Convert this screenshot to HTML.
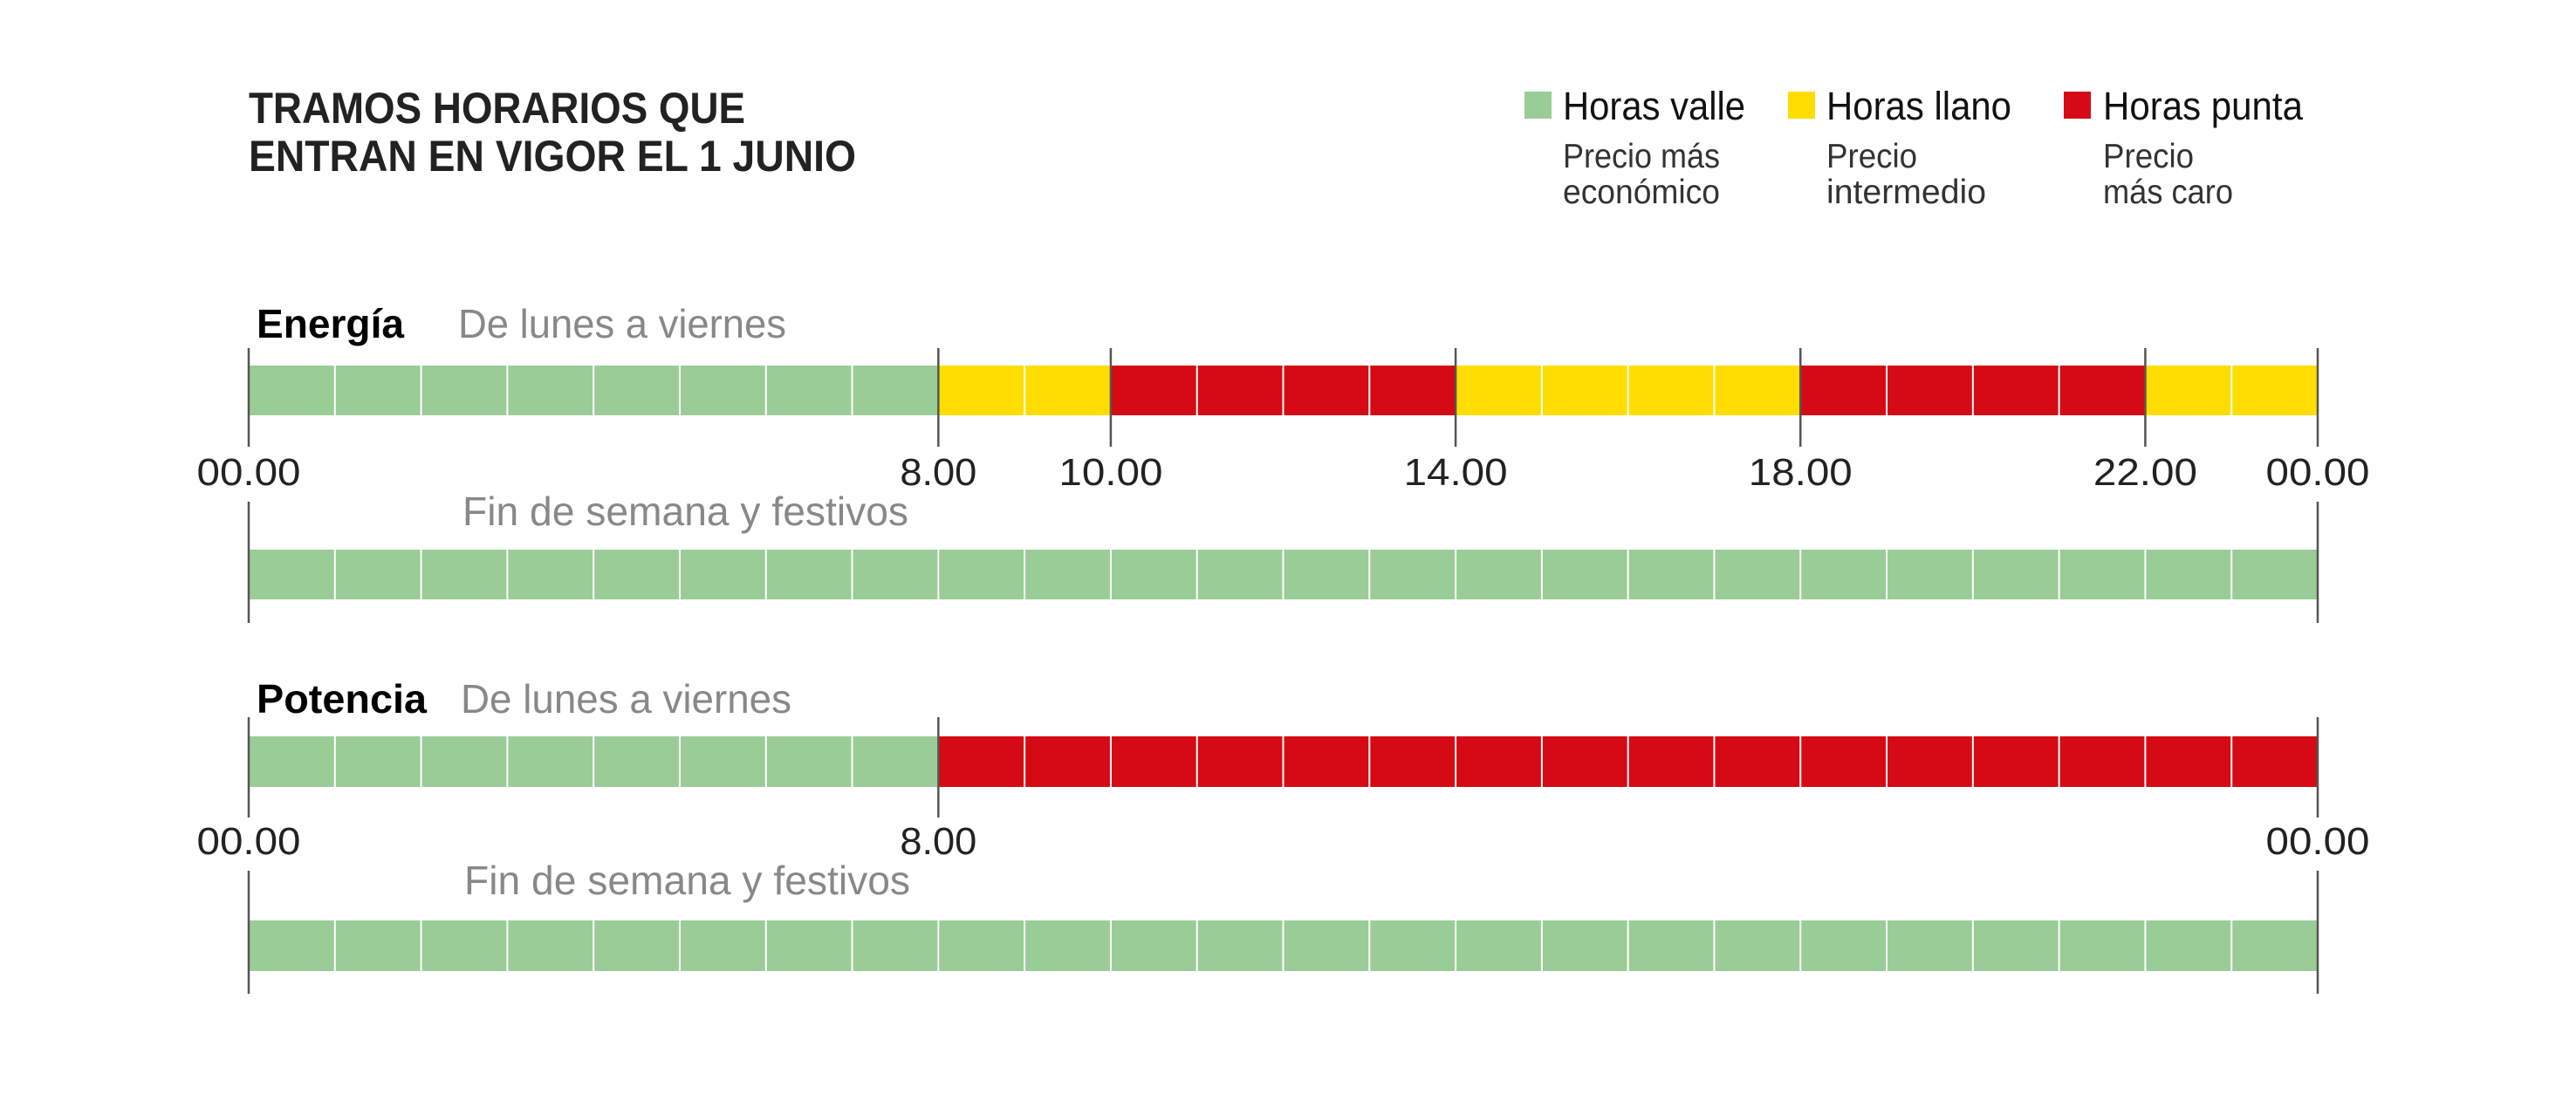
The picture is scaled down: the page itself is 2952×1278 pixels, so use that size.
<!DOCTYPE html>
<html><head><meta charset="utf-8"><style>html,body{margin:0;padding:0;background:#fff}svg{display:block}text{font-family:"Liberation Sans",sans-serif}</style></head>
<body>
<svg width="2952" height="1278" viewBox="0 0 2952 1278" xmlns="http://www.w3.org/2000/svg">
<rect width="2952" height="1278" fill="#fff"/>
<text x="285" y="141" font-size="50" font-weight="bold" fill="#222" textLength="569" lengthAdjust="spacingAndGlyphs">TRAMOS HORARIOS QUE</text>
<text x="285" y="196" font-size="50" font-weight="bold" fill="#222" textLength="696" lengthAdjust="spacingAndGlyphs">ENTRAN EN VIGOR EL 1 JUNIO</text>

<rect x="1747" y="105" width="31" height="31" fill="#9ACC98"/>
<text x="1791" y="137" font-size="45" fill="#111" textLength="209" lengthAdjust="spacingAndGlyphs">Horas valle</text>
<rect x="2049" y="105" width="31" height="31" fill="#FFDD00"/>
<text x="2093" y="137" font-size="45" fill="#111" textLength="212" lengthAdjust="spacingAndGlyphs">Horas llano</text>
<rect x="2365" y="105" width="31" height="31" fill="#D50A14"/>
<text x="2410" y="137" font-size="45" fill="#111" textLength="229" lengthAdjust="spacingAndGlyphs">Horas punta</text>
<g font-size="39" fill="#333">
<text x="1791" y="192" textLength="180" lengthAdjust="spacingAndGlyphs">Precio más</text>
<text x="1791" y="233" textLength="180" lengthAdjust="spacingAndGlyphs">económico</text>
<text x="2093" y="192" textLength="104" lengthAdjust="spacingAndGlyphs">Precio</text>
<text x="2093" y="233" textLength="183" lengthAdjust="spacingAndGlyphs">intermedio</text>
<text x="2410" y="192" textLength="104" lengthAdjust="spacingAndGlyphs">Precio</text>
<text x="2410" y="233" textLength="149" lengthAdjust="spacingAndGlyphs">más caro</text>
</g>

<text x="294" y="387" font-size="46" font-weight="bold" fill="#000" textLength="169" lengthAdjust="spacingAndGlyphs">Energía</text>
<text x="525" y="387" font-size="46" fill="#888" textLength="376" lengthAdjust="spacingAndGlyphs">De lunes a viernes</text>
<text x="530" y="602" font-size="46" fill="#888" textLength="511" lengthAdjust="spacingAndGlyphs">Fin de semana y festivos</text>
<text x="294" y="817" font-size="46" font-weight="bold" fill="#000" textLength="195" lengthAdjust="spacingAndGlyphs">Potencia</text>
<text x="528" y="817" font-size="46" fill="#888" textLength="379" lengthAdjust="spacingAndGlyphs">De lunes a viernes</text>
<text x="532" y="1025" font-size="46" fill="#888" textLength="511" lengthAdjust="spacingAndGlyphs">Fin de semana y festivos</text>

<g id="bars"></g>
<g id="labels" font-size="44" fill="#222" text-anchor="middle"></g>
</svg>
<script>
(function(){
var ns="http://www.w3.org/2000/svg";
var L=285,H=(2656-285)/24;
var G="#9ACC98",Y="#FFDD00",R="#D50A14";
var bars=document.getElementById('bars'),labs=document.getElementById('labels');
function el(t,a,p,txt){var e=document.createElementNS(ns,t);for(var k in a)e.setAttribute(k,a[k]);if(txt)e.textContent=txt;p.appendChild(e);return e;}
function col(h,type){
 if(type==='g')return G;
 if(type==='p')return h<8?G:R;
 if(h<8)return G; if(h<10)return Y; if(h<14)return R; if(h<18)return Y; if(h<22)return R; return Y;
}
function row(y0,y1,type,ticks,t0,t1){
 for(var h=0;h<24;h++){el('rect',{x:L+h*H,y:y0,width:H+0.5,height:y1-y0,fill:col(h,type)},bars);}
 for(var h=1;h<24;h++){el('line',{x1:L+h*H,x2:L+h*H,y1:y0,y2:y1,stroke:'#fff','stroke-width':2},bars);}
 ticks.forEach(function(h){el('line',{x1:L+h*H,x2:L+h*H,y1:t0,y2:t1,stroke:'#555','stroke-width':2.5},bars);});
}
function label(h,y,txt){var w=txt.length===4?88:119;el('text',{x:L+h*H,y:y,textLength:w,lengthAdjust:'spacingAndGlyphs'},labs,txt);}
row(419,476,'e',[0,8,10,14,18,22,24],399,512);
row(630,687,'g',[0,24],575,714);
row(844,902,'p',[0,8,24],822,937);
row(1055,1113,'g',[0,24],998,1139);
var e=[[0,'00.00'],[8,'8.00'],[10,'10.00'],[14,'14.00'],[18,'18.00'],[22,'22.00'],[24,'00.00']];
e.forEach(function(a){label(a[0],556,a[1]);});
[[0,'00.00'],[8,'8.00'],[24,'00.00']].forEach(function(a){label(a[0],979,a[1]);});
})();
</script>
</body></html>
